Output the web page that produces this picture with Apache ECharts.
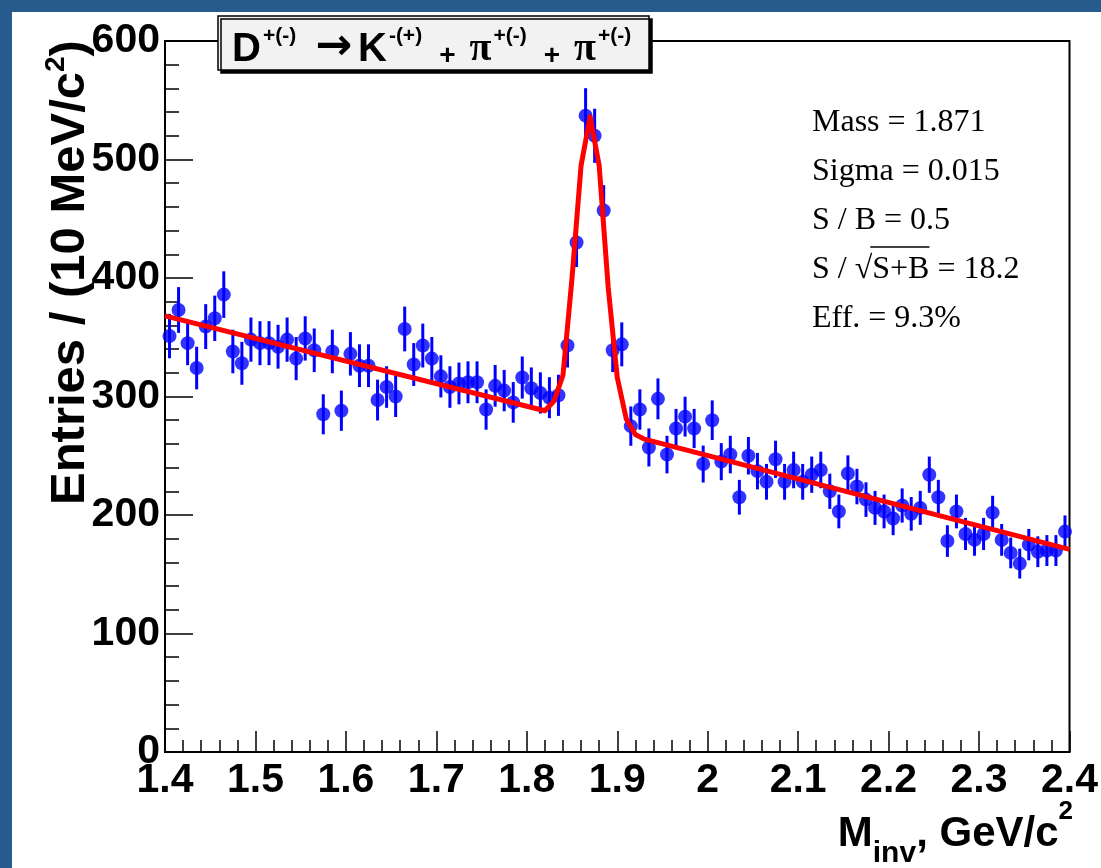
<!DOCTYPE html>
<html>
<head>
<meta charset="utf-8">
<script src="https://cdn.jsdelivr.net/npm/echarts@6/dist/echarts.min.js"></script>
<style>
  html, body { margin: 0; padding: 0; width: 1101px; height: 868px; overflow: hidden; background: #275b8d; }
  #chart { position: absolute; left: 12px; top: 12px; width: 1089px; height: 856px; background: #ffffff; }
</style>
</head>
<body>
<div id="chart"></div>
<script>
// Invariant-mass histogram: 100 bins of 10 MeV/c^2 from 1.40 to 2.40 GeV/c^2
const BIN_LOW = 1.40;
const BIN_WIDTH = 0.01;
const COUNTS = [
  351, 373, 345, 324, 359, 366, 386, 338, 328, 348,
  345, 345, 342, 348, 332, 349, 339, 285, 338, 288,
  336, 326, 326, 297, 308, 300, 357, 327, 343, 332,
  317, 308, 311, 312, 312, 289, 309, 305, 295, 316,
  307, 303, 299, 301, 343, 430, 537, 520, 457, 339,
  344, 275, 289, 257, 298, 251, 273, 283, 273, 243,
  280, 245, 251, 215, 250, 237, 228, 247, 228, 238,
  228, 234, 238, 220, 203, 235, 224, 213, 206, 203,
  197, 208, 201, 206, 234, 215, 178, 203, 184, 179,
  184, 202, 179, 168, 159, 175, 169, 170, 170, 186
];

// Fitted signal + background curve, sampled at its drawn nodes
const FIT_X = [1.40, 1.82, 1.83, 1.84, 1.85, 1.86, 1.87, 1.88, 1.89, 1.90, 1.91, 1.92, 1.93, 2.40];
const FIT_Y = [368, 288, 296, 318, 400, 495, 536, 495, 392, 316, 281, 268, 264, 171];

const STATS_LINES = [
  'Mass = 1.871',
  'Sigma = 0.015',
  'S / B = 0.5',
  'S / \u221AS+B = 18.2',
  'Eff. = 9.3%'
];

const SANS = "'Liberation Sans', Arial, sans-serif";
const SERIF = "'Liberation Serif', 'Times New Roman', serif";

const points = COUNTS.map((n, i) => [BIN_LOW + (i + 0.5) * BIN_WIDTH, n]);
const errors = COUNTS.map((n, i) => [BIN_LOW + (i + 0.5) * BIN_WIDTH, n, Math.sqrt(n)]);
const fit = FIT_X.map((x, i) => [x, FIT_Y[i]]);

const chart = echarts.init(document.getElementById('chart'), null, { renderer: 'canvas' });

// width of the text before the square-root bar, for the overline
const ctx = document.createElement('canvas').getContext('2d');
ctx.font = "32px 'Liberation Serif'";
const statsX = 800;
const rootPre = ctx.measureText('S / \u221A').width;
const rootArg = ctx.measureText('S+B').width;
const statsY0 = 111, statsStep = 49;

const statsGraphics = STATS_LINES.map((t, i) => ({
  type: 'text',
  x: statsX,
  y: statsY0 + i * statsStep,
  style: { text: t, fontFamily: SERIF, fontSize: 32, fill: '#000', align: 'left', verticalAlign: 'middle' }
}));
statsGraphics.push({
  type: 'line',
  shape: { x1: statsX + rootPre - 2, y1: statsY0 + 3 * statsStep - 23, x2: statsX + rootPre + rootArg, y2: statsY0 + 3 * statsStep - 23 },
  style: { stroke: '#000', lineWidth: 1.5 }
});

const axisCommon = {
  axisLine: { show: true, onZero: false, lineStyle: { color: '#000', width: 2 } },
  splitLine: { show: false },
  axisLabel: { fontFamily: SANS, fontWeight: 'bold', fontSize: 41, color: '#000' }
};

chart.setOption({
  animation: false,
  backgroundColor: '#ffffff',
  title: [{
    text: '{b|D}{s|+(-)}{ar|\u2192}{b|K}{s|-(+)}{pl|+}{pi|\u03C0}{s|+(-)}{pl|+}{pi|\u03C0}{s|+(-)}',
    left: 206,
    top: 14,
    padding: [0, 18, 0, 14],
    backgroundColor: '#f2f2f2',
    borderColor: '#000',
    borderWidth: 1.5,
    shadowColor: '#000',
    shadowBlur: 0,
    shadowOffsetX: 3,
    shadowOffsetY: 3,
    textStyle: {
      rich: {
        b: { fontFamily: SANS, fontWeight: 'bold', fontSize: 40, lineHeight: 44, verticalAlign: 'bottom', color: '#000' },
        s: { fontFamily: SANS, fontWeight: 'bold', fontSize: 21, lineHeight: 24, verticalAlign: 'top', color: '#000', padding: [0, 0, 0, 2] },
        ar: { fontFamily: "'DejaVu Sans', sans-serif", fontSize: 44, lineHeight: 44, verticalAlign: 'bottom', color: '#000', padding: [10, 6, 0, 19] },
        pl: { fontFamily: SANS, fontWeight: 'bold', fontSize: 28, lineHeight: 40, verticalAlign: 'bottom', color: '#000', padding: [0, 14, 0, 17] },
        pi: { fontFamily: SERIF, fontSize: 40, lineHeight: 44, verticalAlign: 'bottom', color: '#000' }
      }
    }
  }],
  grid: {
    left: 153, top: 29, right: 27, bottom: 116,
    show: true, borderColor: '#000', borderWidth: 2, backgroundColor: 'transparent'
  },
  xAxis: Object.assign({}, axisCommon, {
    type: 'value', min: 1.4, max: 2.4, interval: 0.1,
    axisTick: { inside: true, length: 21, lineStyle: { color: '#000', width: 1.5 } },
    minorTick: { show: true, splitNumber: 5, length: 12, lineStyle: { color: '#000', width: 1.5 } },
    axisLabel: Object.assign({}, axisCommon.axisLabel, { margin: 8, showMinLabel: true, showMaxLabel: true })
  }),
  yAxis: Object.assign({}, axisCommon, {
    type: 'value', min: 0, max: 600, interval: 100,
    axisTick: { inside: true, length: 28, lineStyle: { color: '#000', width: 1.5 } },
    minorTick: { show: true, splitNumber: 5, length: 14, lineStyle: { color: '#000', width: 1.5 } },
    axisLabel: Object.assign({}, axisCommon.axisLabel, { margin: 5 })
  }),
  series: [
    {
      type: 'custom',
      name: 'errors',
      z: 2,
      data: errors,
      renderItem: function (params, api) {
        const x = api.value(0), y = api.value(1), e = api.value(2);
        const hi = api.coord([x, y + e]);
        const lo = api.coord([x, y - e]);
        return {
          type: 'line',
          shape: { x1: hi[0], y1: hi[1], x2: lo[0], y2: lo[1] },
          style: { stroke: '#0000ff', lineWidth: 3 }
        };
      }
    },
    {
      type: 'scatter',
      name: 'data',
      z: 3,
      data: points,
      symbol: 'circle',
      symbolSize: 14,
      itemStyle: { color: '#0000ff' }
    },
    {
      type: 'line',
      name: 'fit',
      z: 4,
      data: fit,
      showSymbol: false,
      smooth: false,
      lineStyle: { color: '#ff0000', width: 5, join: 'round' }
    }
  ],
  graphic: [
    {
      type: 'text',
      x: 58,
      y: 493,
      rotation: Math.PI / 2,
      style: {
        text: '{m|Entries / (10 MeV/c}{sup|2}{m|)}',
        align: 'left',
        verticalAlign: 'middle',
        rich: {
          m: { fontFamily: SANS, fontWeight: 'bold', fontSize: 49, lineHeight: 56, fill: '#000' },
          sup: { fontFamily: SANS, fontWeight: 'bold', fontSize: 28, lineHeight: 28, verticalAlign: 'top', fill: '#000' }
        }
      }
    },
    {
      type: 'text',
      x: 1061,
      y: 787,
      style: {
        text: '{m|M}{sub|inv}{m|, GeV/c}{sup|2}',
        align: 'right',
        verticalAlign: 'top',
        rich: {
          m: { fontFamily: SANS, fontWeight: 'bold', fontSize: 42, lineHeight: 70, fill: '#000' },
          sub: { fontFamily: SANS, fontWeight: 'bold', fontSize: 30, lineHeight: 20, verticalAlign: 'bottom', fill: '#000' },
          sup: { fontFamily: SANS, fontWeight: 'bold', fontSize: 26, lineHeight: 30, verticalAlign: 'top', fill: '#000' }
        }
      }
    }
  ].concat(statsGraphics)
});
</script>
</body>
</html>
